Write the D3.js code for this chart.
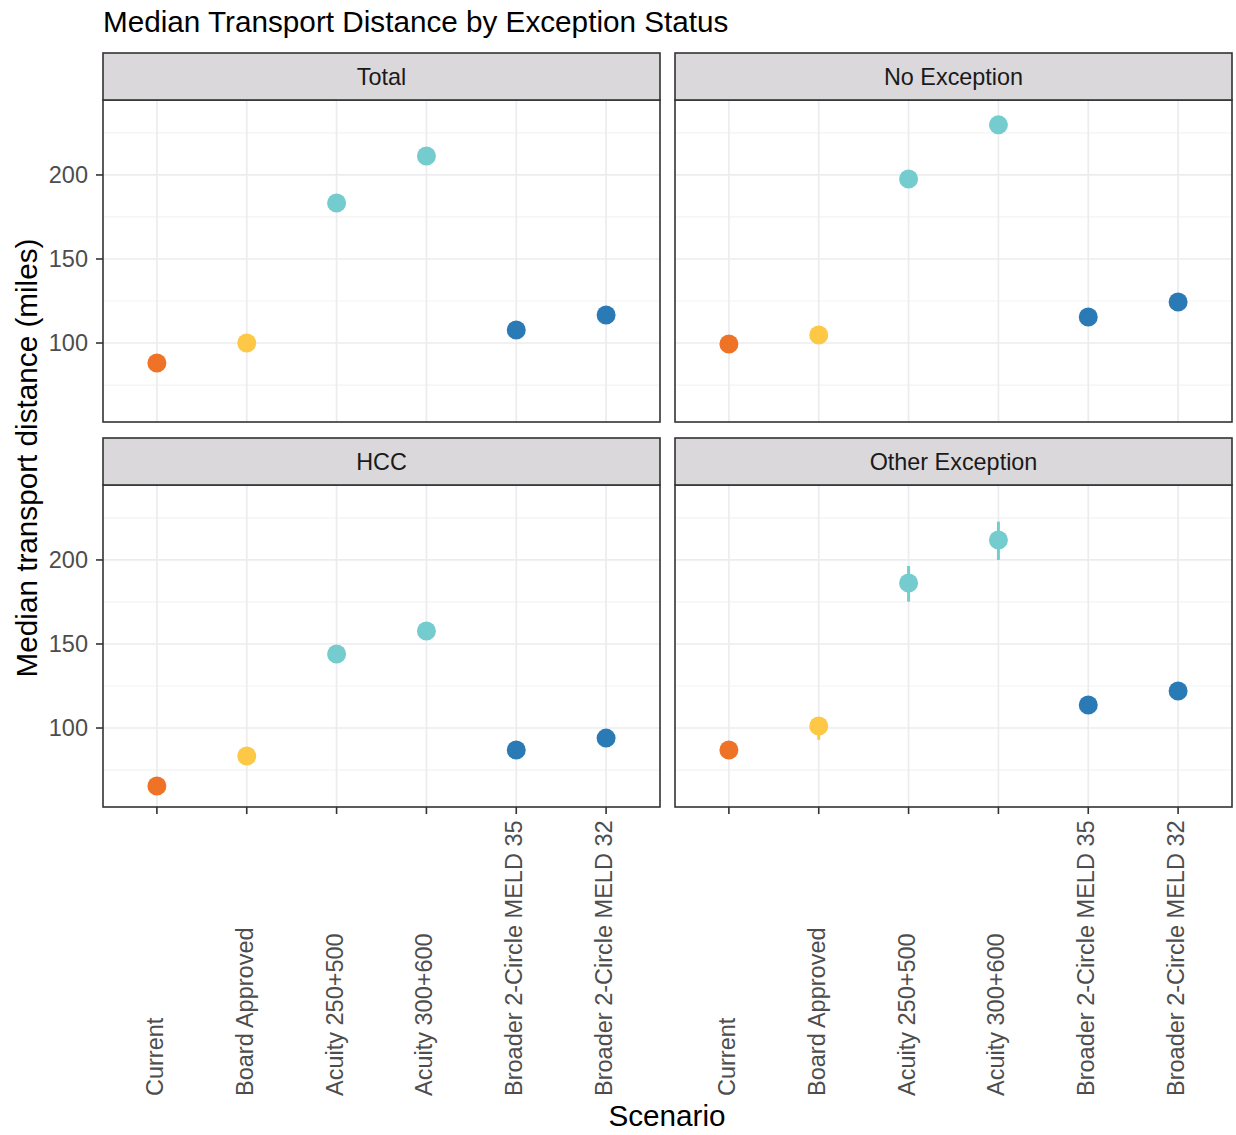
<!DOCTYPE html>
<html>
<head>
<meta charset="utf-8">
<script src="https://cdn.jsdelivr.net/npm/d3@7"></script>
<style>
  html, body { margin: 0; padding: 0; background: #fff; }
  svg text { font-family: "Liberation Sans", Arial, sans-serif; }
</style>
</head>
<body>
<svg id="chart" width="1236" height="1135"></svg>
<script>
// ---- data ----
const scenarios = ["Current", "Board Approved", "Acuity 250+500", "Acuity 300+600",
                   "Broader 2-Circle MELD 35", "Broader 2-Circle MELD 32"];
const facetNames = ["Total", "No Exception", "HCC", "Other Exception"];

const totalValues          = [88.1, 100.0, 183.3, 211.3, 107.7, 116.7];
const noExceptionValues    = [99.4, 104.8, 197.6, 229.8, 115.5, 124.4];
const hccValues            = [65.5, 83.3, 144.0, 157.7, 86.9, 94.0];
const otherExceptionValues = [86.9, 101.2, 186.3, 211.9, 113.7, 122.0];

const totalLower          = [87.0, 99.0, 182.0, 210.0, 106.8, 115.8];
const totalUpper          = [89.2, 101.0, 184.6, 212.6, 108.6, 117.6];
const noExceptionLower    = [98.2, 103.4, 195.8, 227.8, 114.4, 123.2];
const noExceptionUpper    = [100.6, 106.2, 199.4, 231.8, 116.6, 125.6];
const hccLower            = [64.0, 81.8, 142.4, 156.0, 85.8, 92.8];
const hccUpper            = [67.0, 84.8, 145.6, 159.4, 88.0, 95.2];
const otherExceptionLower = [85.0, 93.0, 175.2, 200.0, 111.8, 120.0];
const otherExceptionUpper = [89.0, 104.0, 196.4, 222.8, 115.6, 124.0];

const yTicks = [100, 150, 200];
const yMinorTicks = [75, 125, 175, 225];
const yDomain = [53, 244.6];

const scenarioColors = ["#EE7326", "#FCC845", "#74CCCE", "#74CCCE", "#2A7AB5", "#2A7AB5"];

const facetValues = [totalValues, noExceptionValues, hccValues, otherExceptionValues];
const facetLower  = [totalLower, noExceptionLower, hccLower, otherExceptionLower];
const facetUpper  = [totalUpper, noExceptionUpper, hccUpper, otherExceptionUpper];

// ---- layout ----
const svg = d3.select("#chart");
const colX = [103, 675];
const panelW = 557;
const rowStripTop = [53, 438];
const stripH = 47;
const panelH = 322;
const fontTick = 23.5, fontStrip = 23.4, fontTitle = 29.7, fontAxisTitle = 29.7;

svg.append("rect").attr("width", 1236).attr("height", 1135).attr("fill", "#fff");

svg.append("text")
  .attr("x", 103).attr("y", 32)
  .attr("font-size", fontTitle).attr("fill", "#000")
  .text("Median Transport Distance by Exception Status");

facetNames.forEach((name, fi) => {
  const col = fi % 2, row = Math.floor(fi / 2);
  const x0 = colX[col];
  const stripTop = rowStripTop[row];
  const pTop = stripTop + stripH;

  const x = d3.scalePoint().domain(scenarios).range([x0, x0 + panelW]).padding(0.6);
  const y = d3.scaleLinear().domain(yDomain).range([pTop + panelH, pTop]);

  const g = svg.append("g");

  g.append("rect").attr("x", x0).attr("y", pTop).attr("width", panelW).attr("height", panelH)
    .attr("fill", "#fff");

  // minor grid
  g.selectAll(".minor").data(yMinorTicks.filter(v => v > yDomain[0] && v < yDomain[1])).enter()
    .append("line")
    .attr("x1", x0).attr("x2", x0 + panelW)
    .attr("y1", d => y(d)).attr("y2", d => y(d))
    .attr("stroke", "#F3F3F5").attr("stroke-width", 1.2);
  // major grid
  g.selectAll(".majorh").data(yTicks).enter()
    .append("line")
    .attr("x1", x0).attr("x2", x0 + panelW)
    .attr("y1", d => y(d)).attr("y2", d => y(d))
    .attr("stroke", "#ECECEF").attr("stroke-width", 1.7);
  g.selectAll(".majorv").data(scenarios).enter()
    .append("line")
    .attr("x1", d => x(d)).attr("x2", d => x(d))
    .attr("y1", pTop).attr("y2", pTop + panelH)
    .attr("stroke", "#ECECEF").attr("stroke-width", 1.7);

  // error bars
  const vals = facetValues[fi], lo = facetLower[fi], hi = facetUpper[fi];
  g.selectAll(".err").data(scenarios).enter()
    .append("line")
    .attr("x1", d => x(d)).attr("x2", d => x(d))
    .attr("y1", (d, i) => y(lo[i])).attr("y2", (d, i) => y(hi[i]))
    .attr("stroke", (d, i) => scenarioColors[i]).attr("stroke-width", 3);

  // points
  g.selectAll(".pt").data(scenarios).enter()
    .append("circle")
    .attr("cx", d => x(d)).attr("cy", (d, i) => y(vals[i]))
    .attr("r", 9.5)
    .attr("fill", (d, i) => scenarioColors[i]);

  // panel border
  g.append("rect").attr("x", x0).attr("y", pTop).attr("width", panelW).attr("height", panelH)
    .attr("fill", "none").attr("stroke", "#333333").attr("stroke-width", 1.6);

  // strip
  g.append("rect").attr("x", x0).attr("y", stripTop).attr("width", panelW).attr("height", stripH)
    .attr("fill", "#DAD8DB").attr("stroke", "#333333").attr("stroke-width", 1.6);
  g.append("text")
    .attr("x", x0 + panelW / 2).attr("y", stripTop + stripH / 2 + 0.36 * fontStrip)
    .attr("text-anchor", "middle").attr("font-size", fontStrip).attr("fill", "#1A1A1A")
    .text(name);

  // y axis (left column)
  if (col === 0) {
    const ya = g.append("g");
    yTicks.forEach(t => {
      ya.append("line").attr("x1", x0 - 7).attr("x2", x0).attr("y1", y(t)).attr("y2", y(t))
        .attr("stroke", "#333333").attr("stroke-width", 1.6);
      ya.append("text").attr("x", x0 - 15).attr("y", y(t) + 0.36 * fontTick)
        .attr("text-anchor", "end").attr("font-size", fontTick).attr("fill", "#4D4D4D")
        .text(t);
    });
  }
  // x axis (bottom row)
  if (row === 1) {
    const xa = g.append("g");
    const pBottom = pTop + panelH;
    scenarios.forEach(s => {
      xa.append("line").attr("x1", x(s)).attr("x2", x(s)).attr("y1", pBottom).attr("y2", pBottom + 7)
        .attr("stroke", "#333333").attr("stroke-width", 1.6);
      xa.append("text")
        .attr("transform", `translate(${x(s) + 6},1096) rotate(-90)`)
        .attr("text-anchor", "start").attr("font-size", fontTick).attr("fill", "#4D4D4D")
        .text(s);
    });
  }
});

// axis titles
svg.append("text")
  .attr("x", 667).attr("y", 1126)
  .attr("text-anchor", "middle").attr("font-size", fontAxisTitle).attr("fill", "#000")
  .text("Scenario");
svg.append("text")
  .attr("transform", "translate(37,458) rotate(-90)")
  .attr("text-anchor", "middle").attr("font-size", fontAxisTitle).attr("fill", "#000")
  .text("Median transport distance (miles)");
</script>
</body>
</html>
